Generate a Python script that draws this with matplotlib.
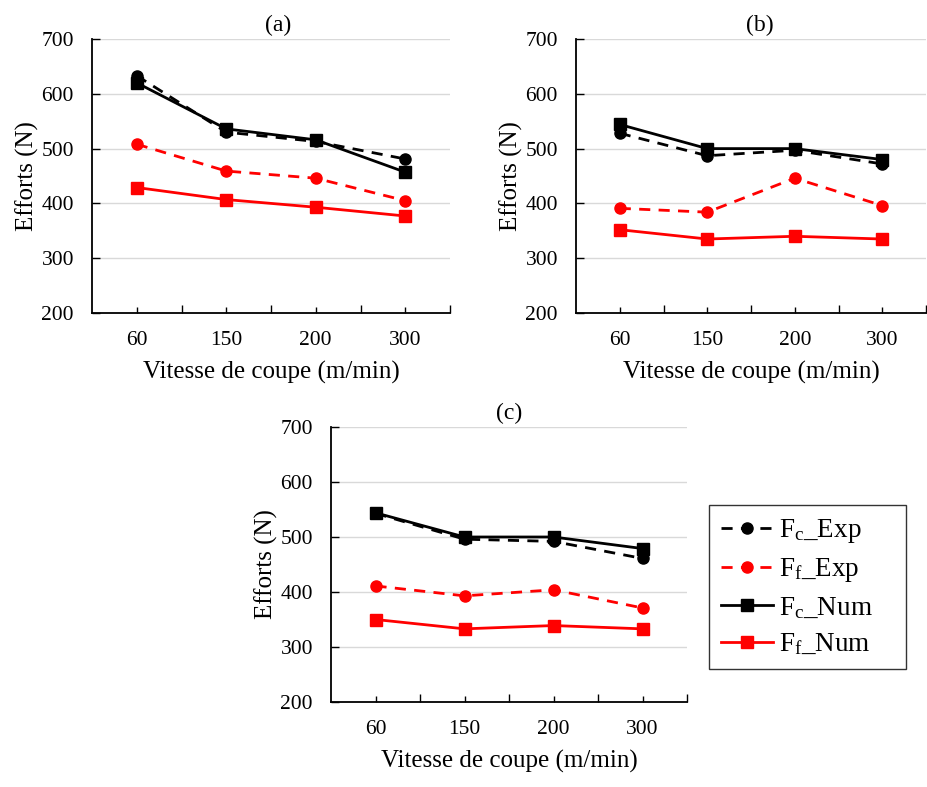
import numpy as np
import matplotlib
matplotlib.use("Agg")
import matplotlib.pyplot as plt

plt.rcParams["font.family"] = ["Liberation Serif", "DejaVu Serif"]
plt.rcParams["mathtext.fontset"] = "custom"
plt.rcParams["mathtext.rm"] = "Liberation Serif"
plt.rcParams["mathtext.it"] = "Liberation Serif:italic"

# data
speeds = ["60", "150", "200", "300"]
y_ticks = [200, 300, 400, 500, 600, 700]

# panel (a)
a_fc_exp = [633, 530, 513, 481]
a_ff_exp = [508, 459, 446, 405]
a_fc_num = [620, 536, 516, 457]
a_ff_num = [429, 407, 393, 377]

# panel (b)
b_fc_exp = [528, 487, 497, 472]
b_ff_exp = [391, 384, 446, 396]
b_fc_num = [544, 500, 500, 480]
b_ff_num = [352, 335, 340, 335]

# panel (c)
c_fc_exp = [543, 496, 492, 461]
c_ff_exp = [411, 393, 404, 371]
c_fc_num = [544, 500, 500, 479]
c_ff_num = [350, 333, 339, 333]

labels = ["F$_{\\mathrm{c}}$_Exp", "F$_{\\mathrm{f}}$_Exp",
          "F$_{\\mathrm{c}}$_Num", "F$_{\\mathrm{f}}$_Num"]

W, H = 927, 787
fig = plt.figure(figsize=(W / 100, H / 100), dpi=100)


def make_ax(left, top, right, bottom):
    return fig.add_axes([left / W, 1 - bottom / H, (right - left) / W, (bottom - top) / H])


def draw(ax, fc_exp, ff_exp, fc_num, ff_num, title, title_x=0.5):
    x = np.arange(len(speeds))
    lines = []
    lines += ax.plot(x, fc_exp, color="black", ls=(0, (4, 3)), lw=2,
                     marker="o", ms=8, label=labels[0])
    lines += ax.plot(x, ff_exp, color="#ff0000", ls=(0, (4, 3)), lw=2,
                     marker="o", ms=8, label=labels[1])
    lines += ax.plot(x, fc_num, color="black", ls="-", lw=2,
                     marker="s", ms=8.5, label=labels[2])
    lines += ax.plot(x, ff_num, color="#ff0000", ls="-", lw=2,
                     marker="s", ms=8.5, label=labels[3])
    ax.set_xlim(-0.5, len(speeds) - 0.5)
    ax.set_ylim(200, 700)
    ax.set_yticks(y_ticks)
    ax.set_yticklabels([str(v) for v in y_ticks], fontsize=15.5)
    ax.set_xticks(np.arange(0.5, len(speeds) + 0.5, 1))
    ax.set_xticklabels([])
    ax.set_xticks(x, labels=speeds, minor=True, fontsize=15.5)
    ax.tick_params(axis="x", which="major", direction="in", length=6, width=1)
    ax.tick_params(axis="x", which="minor", direction="in", length=4, width=1, pad=13)
    ax.tick_params(axis="y", direction="in", length=6, width=1, pad=13)
    ax.grid(axis="y", color="#d9d9d9", lw=1)
    ax.set_axisbelow(True)
    for s in ["top", "right"]:
        ax.spines[s].set_visible(False)
    for s in ["left", "bottom"]:
        ax.spines[s].set_linewidth(1.3)
    ax.set_xlabel("Vitesse de coupe (m/min)", fontsize=18, labelpad=8)
    ax.set_ylabel("Efforts (N)", fontsize=18, labelpad=2)
    ax.set_title(title, fontsize=17, pad=6, x=title_x)
    return lines


ax_a = make_ax(92, 39, 450, 313)
draw(ax_a, a_fc_exp, a_ff_exp, a_fc_num, a_ff_num, "(a)", 0.52)

ax_b = make_ax(576, 39, 926, 313)
draw(ax_b, b_fc_exp, b_ff_exp, b_fc_num, b_ff_num, "(b)", 0.525)

ax_c = make_ax(331, 427, 687, 702)
lines = draw(ax_c, c_fc_exp, c_ff_exp, c_fc_num, c_ff_num, "(c)")

leg = fig.legend(handles=lines, loc="upper left", mode="expand",
                 bbox_to_anchor=(709 / W, 1 - 665 / H, 197 / W, 160 / H),
                 fontsize=19.5, frameon=True, fancybox=False, edgecolor="black",
                 handlelength=1.9, handletextpad=0.25, labelspacing=0.4,
                 borderpad=0.45, borderaxespad=0, numpoints=1)
leg.get_frame().set_linewidth(1.0)

fig.savefig("out.png", dpi=100)
